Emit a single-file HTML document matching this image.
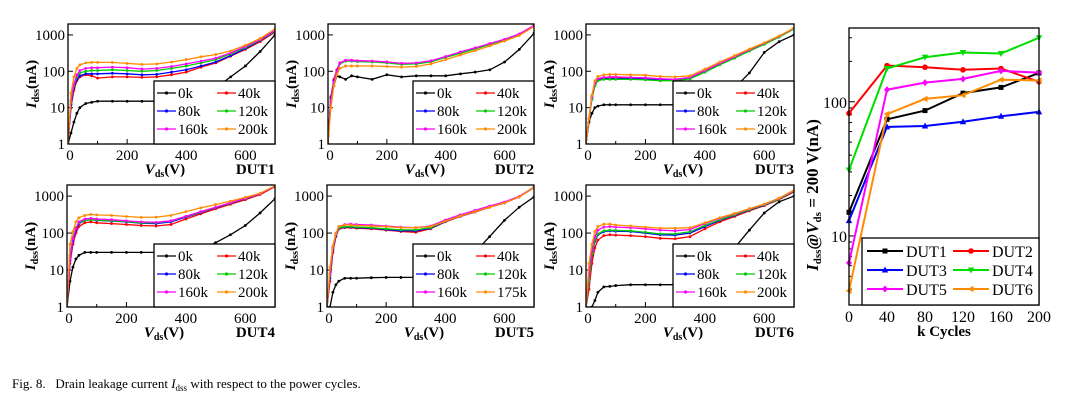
<!DOCTYPE html>
<html><head><meta charset="utf-8">
<style>
html,body{margin:0;padding:0;background:#fff;}
svg{display:block;font-family:"Liberation Serif",serif;}
</style></head>
<body>
<svg id="fig" width="1074" height="410" viewBox="0 0 1074 410" xmlns="http://www.w3.org/2000/svg">
<text x="12" y="388" font-size="13">Fig. 8.&#160;&#160; Drain leakage current <tspan font-style="italic">I</tspan><tspan font-size="9" dy="3">dss</tspan><tspan dy="-3"> with respect to the power cycles.</tspan></text>
</svg>
<script>
const NS="http://www.w3.org/2000/svg";
const svg=document.getElementById('fig');
// ---- shared voltage grid ----
const volts=[0,10,20,30,40,60,80,100,150,200,250,300,350,400,450,500,550,600,650,700];
const xTicks=[0,200,400,600];
const yTicks=[1,10,100,1000];
const colors=['#000000','#ff0000','#0000ff','#00cc00','#ff00ff','#ff8c00'];
// ---- DUT1 ----
const d1_0k=[1,2,4,7,10,13,14,15,15,15,15,15,15,15,22,35,70,140,350,1000];
const d1_40k=[1,10,30,55,70,80,75,65,70,70,68,70,80,95,130,170,260,400,650,1200];
const d1_80k=[1,12,35,60,75,85,85,85,88,85,80,82,95,110,140,180,270,420,700,1250];
const d1_120k=[1,14,40,70,90,100,105,105,110,105,100,105,120,140,170,210,300,450,720,1300];
const d1_160k=[1,16,45,80,105,120,125,125,130,125,115,120,135,160,190,230,320,480,750,1350];
const d1_200k=[1,25,70,120,150,170,175,175,175,165,155,160,180,210,250,290,360,520,800,1450];
// ---- DUT2 ----
const d2_0k=[1,20,40,75,70,60,75,70,60,80,70,75,75,75,85,95,110,180,400,1100];
const d2_40k=[1,20,60,110,170,200,200,195,190,180,165,165,190,250,330,430,570,750,1050,1800];
const d2_80k=[1,18,55,100,165,195,195,190,185,175,160,160,185,245,320,420,560,740,1040,1780];
const d2_120k=[1,16,50,95,160,190,190,185,180,170,155,160,182,240,315,410,550,730,1030,1760];
const d2_160k=[1,15,50,100,170,200,200,195,190,180,165,170,195,255,340,440,580,760,1060,1820];
const d2_200k=[1,10,40,80,120,140,140,140,140,135,130,135,160,210,280,370,500,680,960,1700];
// ---- DUT3 ----
const d3_0k=[1,4,7,10,11,12,12,12,12,12,12,12,12,15,20,35,90,330,650,1000];
const d3_40k=[1,5,20,45,60,65,65,65,65,63,60,58,65,100,160,240,380,580,900,1500];
const d3_80k=[1,5,18,43,58,63,63,63,63,61,58,57,63,95,155,235,370,560,880,1480];
const d3_120k=[1,5,17,40,55,60,60,60,60,58,55,55,62,95,150,230,360,550,870,1460];
const d3_160k=[1,5,20,47,63,68,70,70,68,66,62,60,68,105,165,250,390,590,920,1520];
const d3_200k=[1,5,22,55,72,80,82,82,80,78,72,70,75,115,180,270,410,610,940,1550];
// ---- DUT4 ----
const d4_0k=[1,5,12,20,25,30,30,30,30,30,30,30,30,30,35,55,90,160,350,850];
const d4_40k=[1,15,50,100,150,190,200,190,180,170,160,155,170,240,330,450,600,800,1100,1800];
const d4_80k=[1,18,60,120,180,220,230,220,210,200,185,180,200,270,360,480,640,850,1150,1850];
const d4_120k=[1,25,75,140,190,220,230,225,215,205,190,190,210,280,370,490,650,860,1160,1860];
const d4_160k=[1,20,70,130,200,240,250,240,230,215,200,195,215,285,380,500,660,870,1170,1880];
const d4_200k=[1,50,110,200,260,300,320,310,300,280,265,270,300,380,480,590,730,920,1200,1900];
// ---- DUT5 ----
const d5_0k=[0.5,1,2.5,4,5,6,6,6,6.2,6.3,6.3,6.3,6.3,10,15,30,80,220,500,950];
const d5_40k=[1,5,30,80,130,140,140,135,130,120,110,105,130,200,280,370,500,650,950,1700];
const d5_80k=[1,6,35,85,135,145,145,140,135,125,115,115,135,205,285,380,510,660,960,1720];
const d5_120k=[1,7,38,90,140,150,150,145,140,130,122,122,140,210,290,385,515,665,965,1730];
const d5_160k=[1,8,40,95,150,170,175,170,165,155,145,140,155,225,310,410,540,690,990,1760];
const d5_175k=[1,12,45,100,150,165,165,160,155,150,140,140,150,210,290,380,505,655,955,1740];
// ---- DUT6 ----
const d6_0k=[0.5,0.8,1,1.5,2.5,3.5,3.6,3.8,4,4,4,4,4,6,15,40,120,350,700,1000];
const d6_40k=[1,3,15,40,65,85,90,88,85,80,72,70,80,130,200,280,400,550,800,1300];
const d6_80k=[1,5,25,60,90,110,115,112,110,100,90,88,100,150,220,300,420,570,820,1350];
const d6_120k=[1,5,27,65,95,115,120,118,115,105,95,95,108,160,230,310,430,580,830,1370];
const d6_160k=[1,8,35,80,120,145,150,145,140,130,120,115,125,180,250,330,450,600,860,1400];
const d6_200k=[1,15,50,110,150,175,175,165,155,145,135,135,140,190,260,340,460,610,880,1450];
const legendStd=['0k','40k','80k','120k','160k','200k'];
const legendD5=['0k','40k','80k','120k','160k','175k'];
// ---- right summary chart ----
const cycles=[0,40,80,120,160,200];
const cycleTicks=[0,40,80,120,160,200];
const dutNames=['DUT1','DUT2','DUT3','DUT4','DUT5','DUT6'];
const sum1=[15,74,86,116,128,164];
const sum2=[82,186,181,173,177,141];
const sum3=[13,65,66,71,78,84];
const sum4=[31,177,215,233,229,300];
const sum5=[6.3,123,139,148,170,165];
const sum6=[3.9,81,105,112,146,144];

function el(tag,attrs,parent){const e=document.createElementNS(NS,tag);for(const k in attrs)e.setAttribute(k,attrs[k]);(parent||svg).appendChild(e);return e;}

let clipId=0;
function panel(px,py,w,h,dut,series,labels){
  const g=el('g',{});
  
  
  const yMax=3.3;
  const xs=v=>px+v/700*w;
  const ys=v=>py+h-(Math.log10(Math.max(v,0.01)))/yMax*h;
  const cid='clip'+(clipId++);
  const cp=el('clipPath',{id:cid},g);el('rect',{x:px,y:py,width:w,height:h},cp);
  for(let v=0;v<=700;v+=100){const t=el('line',{x1:xs(v),x2:xs(v),y1:py+h,y2:py+h-(v%200===0?5:3),stroke:'#000','stroke-width':1},g);}
  xTicks.forEach(v=>{const t=el('text',{x:xs(v)+(v===0?2:0),y:py+h+16,'font-size':15,'text-anchor':'middle'},g);t.textContent=v;});
  yTicks.forEach(v=>{el('line',{x1:px,x2:px+5,y1:ys(v),y2:ys(v),stroke:'#000'},g);const t=el('text',{x:px-3,y:ys(v)+5,'font-size':15,'text-anchor':'end'},g);t.textContent=v;});
  const sg=el('g',{'clip-path':'url(#'+cid+')'},g);
  series.forEach((s,i)=>{
    const pts=s.map((v,j)=>xs(volts[j]).toFixed(1)+','+ys(v).toFixed(1)).join(' ');
    const pl=el('polyline',{points:pts,fill:'none',stroke:colors[i],'stroke-width':1.3},sg);
    
    
    s.forEach((v,j)=>{const m=el('circle',{cx:xs(volts[j]),cy:ys(v),r:1.4,fill:colors[i]},sg);});
  });
  const fr=el('rect',{x:px,y:py,width:w,height:h,fill:'none',stroke:'#000','stroke-width':1.3},g);
  
  const lx=px+w-121,ly=py+h-63;
  const lg=el('g',{},g);
  
  el('rect',{x:lx,y:ly,width:121,height:63,fill:'#fff',stroke:'#000','stroke-width':1.3},lg);
  labels.forEach((lab,i)=>{
    const col=i%2,row=Math.floor(i/2);
    const x0=lx+(col?63:3),yy=ly+12+row*18;
    el('line',{x1:x0,x2:x0+19,y1:yy,y2:yy,stroke:colors[i],'stroke-width':1.3},lg);
    el('circle',{cx:x0+9.5,cy:yy,r:1.6,fill:colors[i]},lg);
    const t=el('text',{x:x0+21,y:yy+5,'font-size':15},lg);t.textContent=lab;
    
  });
  const xl=el('text',{x:px+97,y:py+h+30,'font-size':15,'font-weight':'bold','text-anchor':'middle'},g);
  xl.innerHTML='<tspan font-style="italic">V</tspan><tspan font-size="10" dy="3">ds</tspan><tspan dy="-3">(V)</tspan>';
  
  const dl=el('text',{x:px+w,y:py+h+30,'font-size':15,'font-weight':'bold','text-anchor':'end'},g);dl.textContent=dut;
  
  const yl=el('text',{transform:'translate('+(px-32)+','+(py+h/2)+') rotate(-90)','font-size':15,'font-weight':'bold','text-anchor':'middle'},g);
  yl.innerHTML='<tspan font-style="italic">I</tspan><tspan font-size="10" dy="3">dss</tspan><tspan dy="-3">(nA)</tspan>';
  
}
panel(68,24,207,120,'DUT1',[d1_0k,d1_40k,d1_80k,d1_120k,d1_160k,d1_200k],legendStd);
panel(328,24,206,120,'DUT2',[d2_0k,d2_40k,d2_80k,d2_120k,d2_160k,d2_200k],legendStd);
panel(586,24,208,120,'DUT3',[d3_0k,d3_40k,d3_80k,d3_120k,d3_160k,d3_200k],legendStd);
panel(67,185,208,122,'DUT4',[d4_0k,d4_40k,d4_80k,d4_120k,d4_160k,d4_200k],legendStd);
panel(327,185,207,122,'DUT5',[d5_0k,d5_40k,d5_80k,d5_120k,d5_160k,d5_175k],legendD5);
panel(586,185,208,122,'DUT6',[d6_0k,d6_40k,d6_80k,d6_120k,d6_160k,d6_200k],legendStd);

(function(){
  const px=849,py=28,w=190,h=277,lmin=0.485,lmax=2.55;
  const xs=v=>px+v/200*w;
  const ys=v=>py+h-(Math.log10(v)-lmin)/(lmax-lmin)*h;
  const g=el('g',{});
  
  for(let v=0;v<=200;v+=20){el('line',{x1:xs(v),x2:xs(v),y1:py+h,y2:py+h-(v%40===0?6:4),stroke:'#000'},g);}
  cycleTicks.forEach(v=>{const t=el('text',{x:xs(v),y:py+h+17,'font-size':16,'text-anchor':'middle'},g);t.textContent=v;});
  for(let d=0;d<3;d++)for(let k=1;k<10;k++){const v=k*Math.pow(10,d);const lv=Math.log10(v);if(lv<lmin||lv>lmax)continue;el('line',{x1:px,x2:px+(k===1?6:3),y1:ys(v),y2:ys(v),stroke:'#000'},g);}
  [10,100].forEach(v=>{const t=el('text',{x:px-2,y:ys(v)+6,'font-size':16,'text-anchor':'end'},g);t.textContent=v;});
  const data=[sum1,sum2,sum3,sum4,sum5,sum6];
  const cols=['#000000','#ff0000','#0000ff','#00dd00','#ff00ff','#ff8c00'];
  function marker(i,x,y,p){
    let m;
    if(i===0)m=el('rect',{x:x-2.5,y:y-2.5,width:5,height:5,fill:cols[i]},p);
    else if(i===1)m=el('circle',{cx:x,cy:y,r:2.8,fill:cols[i]},p);
    else if(i===2)m=el('polygon',{points:`${x},${y-3.5} ${x-3.2},${y+2.5} ${x+3.2},${y+2.5}`,fill:cols[i]},p);
    else if(i===3)m=el('polygon',{points:`${x},${y+3.5} ${x-3.2},${y-2.5} ${x+3.2},${y-2.5}`,fill:cols[i]},p);
    else if(i===4)m=el('polygon',{points:`${x},${y-3.5} ${x+3},${y} ${x},${y+3.5} ${x-3},${y}`,fill:cols[i]},p);
    else m=el('polygon',{points:`${x-3.5},${y} ${x+2.5},${y-3.2} ${x+2.5},${y+3.2}`,fill:cols[i]},p);
    return m;
  }
  data.forEach((s,i)=>{
    const pl=el('polyline',{points:s.map((v,j)=>xs(cycles[j]).toFixed(1)+','+ys(v).toFixed(1)).join(' '),fill:'none',stroke:cols[i],'stroke-width':2},g);
    
    
    s.forEach((v,j)=>{const m=marker(i,xs(cycles[j]),ys(v),g);});
  });
  el('rect',{x:px,y:py,width:w,height:h,fill:'none',stroke:'#000','stroke-width':1.3},g);
  const lg=el('g',{},g);
  
  el('rect',{x:862,y:238,width:177,height:67,fill:'#fff',stroke:'#000','stroke-width':1.3},lg);
  dutNames.forEach((n,i)=>{
    const col=i%2,row=Math.floor(i/2);
    const x0=col?953:867,yy=251+row*19;
    el('line',{x1:x0,x2:x0+36,y1:yy,y2:yy,stroke:cols[i],'stroke-width':2},lg);
    marker(i,x0+18,yy,lg);
    const t=el('text',{x:x0+39,y:yy+6,'font-size':16},lg);t.textContent=n;
    
  });
  const xl=el('text',{x:px+w/2,y:py+h+31,'font-size':15,'font-weight':'bold','text-anchor':'middle'},g);xl.textContent='k Cycles';
  
  const yl=el('text',{transform:'translate(818,195) rotate(-90)','font-size':17,'font-weight':'bold','text-anchor':'middle'},g);
  yl.innerHTML='<tspan font-style="italic">I</tspan><tspan font-size="11" dy="3">dss</tspan><tspan dy="-3">@</tspan><tspan font-style="italic">V</tspan><tspan font-size="11" dy="3">ds</tspan><tspan dy="-3"> = 200 V(nA)</tspan>';
  
})();
</script>
</body></html>
